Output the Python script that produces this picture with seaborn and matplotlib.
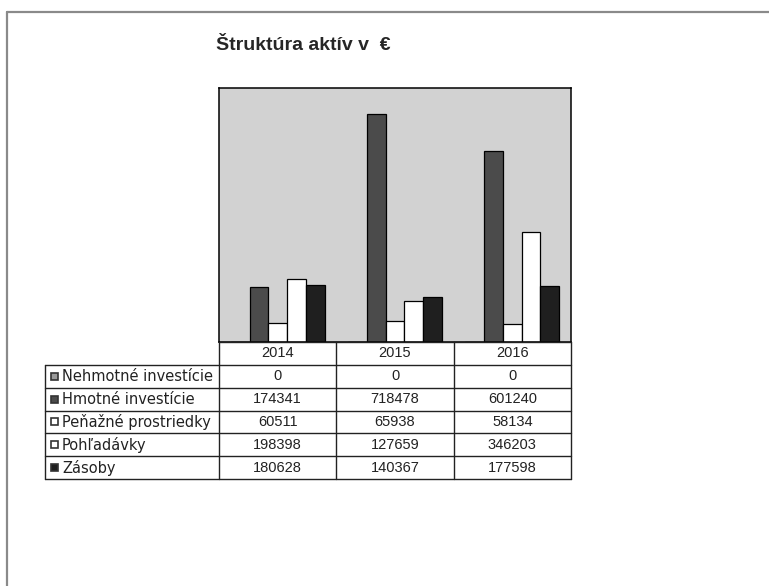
import pandas as pd
import matplotlib.pyplot as plt
import matplotlib as mpl
import numpy as np
import seaborn as sns
from matplotlib.patches import Rectangle

sns.set_style("white")
plt.rcParams['font.family'] = ['DejaVu Sans']

# data
years = ['2014', '2015', '2016']
series = ['Nehmotné investície', 'Hmotné investície', 'Peňažné prostriedky',
          'Pohľadávky', 'Zásoby']
nehmotne = [0, 0, 0]
hmotne = [174341, 718478, 601240]
penazne = [60511, 65938, 58134]
pohladavky = [198398, 127659, 346203]
zasoby = [180628, 140367, 177598]
values = [nehmotne, hmotne, penazne, pohladavky, zasoby]

colors = {'Nehmotné investície': '#9a9a9a',
          'Hmotné investície': '#4b4b4b',
          'Peňažné prostriedky': '#ffffff',
          'Pohľadávky': '#ffffff',
          'Zásoby': '#1f1f1f'}

rows = []
for s, vals in zip(series, values):
    for y, v in zip(years, vals):
        rows.append({'rok': y, 'polozka': s, 'hodnota': v})
df = pd.DataFrame(rows)

W, H = 769, 586
fig = plt.figure(figsize=(W / 100, H / 100), dpi=100)
fig.patch.set_facecolor('white')

def px_axes(x0, y0, x1, y1):
    # pixel box (top-left origin) -> figure fraction
    return [x0 / W, 1 - y1 / H, (x1 - x0) / W, (y1 - y0) / H]

# page frame from the scan
bg = fig.add_axes([0, 0, 1, 1], zorder=-1)
bg.set_xlim(0, W)
bg.set_ylim(H, 0)
bg.axis('off')
bg.plot([7, W], [12, 12], color='#8a8a8a', lw=1.6)
bg.plot([7, 7], [12, H], color='#8a8a8a', lw=1.6)

# chart
pl_l, pl_r, pl_t, pl_b = 219, 571, 88, 342
ax = fig.add_axes(px_axes(pl_l, pl_t, pl_r, pl_b))
sns.barplot(data=df, x='rok', y='hodnota', hue='polozka', order=years,
            hue_order=series, palette=colors, edgecolor='black', linewidth=0.9,
            width=0.8, legend=False, ax=ax, saturation=1)
ax.set_facecolor('#d2d2d2')
ax.set_ylim(0, 800000)
ax.set_xlim(-0.5, len(years) - 0.5)
ax.set_xticks([])
ax.set_yticks([])
ax.set_xlabel('')
ax.set_ylabel('')
for sp in ax.spines.values():
    sp.set_visible(True)
    sp.set_color('black')
    sp.set_linewidth(1.1)

fig.text(216 / W, 1 - 45 / H, 'Štruktúra aktív v  €', fontsize=14,
         fontweight='bold', family='Liberation Sans', ha='left', va='center')

# data table under the chart
lab_l = 45
tb_b = 479
tab = fig.add_axes(px_axes(lab_l - 2, pl_b - 2, pl_r + 2, tb_b + 2))
tab.set_xlim(lab_l - 2, pl_r + 2)
tab.set_ylim(tb_b + 2, pl_b - 2)
tab.axis('off')

col_edges = np.linspace(pl_l, pl_r, len(years) + 1)
row_edges = np.linspace(pl_b, tb_b, len(series) + 2)
lc = '#222222'
for x in col_edges:
    tab.plot([x, x], [pl_b, tb_b], color=lc, lw=1)
tab.plot([lab_l, lab_l], [row_edges[1], tb_b], color=lc, lw=1)
for i, yv in enumerate(row_edges):
    x0 = pl_l if i == 0 else lab_l
    tab.plot([x0, pl_r], [yv, yv], color=lc, lw=1)

for j, y in enumerate(years):
    cx = (col_edges[j] + col_edges[j + 1]) / 2
    cy = (row_edges[0] + row_edges[1]) / 2
    tab.text(cx, cy, y, ha='center', va='center', fontsize=10.5,
             family='Liberation Sans', color='#222222')

for i, (s, vals) in enumerate(zip(series, values)):
    cy = (row_edges[i + 1] + row_edges[i + 2]) / 2
    tab.add_patch(Rectangle((51, cy - 3.5), 7, 7, facecolor=colors[s],
                            edgecolor='#333333', lw=1.2))
    tab.text(62, cy, s, ha='left', va='center', fontsize=10.5,
             color='#222222')
    for j, v in enumerate(vals):
        cx = (col_edges[j] + col_edges[j + 1]) / 2
        tab.text(cx, cy, str(v), ha='center', va='center', fontsize=10.5,
                 family='Liberation Sans', color='#222222')

plt.savefig('out.png', dpi=100)
